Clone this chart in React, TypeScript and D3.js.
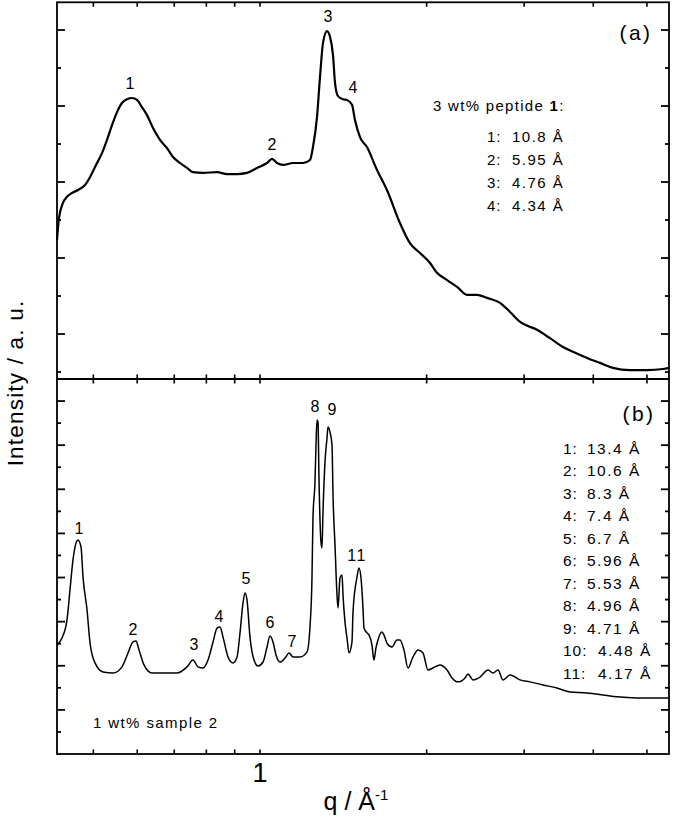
import React from "react";
import * as d3 from "d3";

// ---------- data ----------
// Panel (a): 3 wt% peptide 1  [q (1/Å), intensity (a.u.)]
const qA = [0.4298,0.4334,0.4406,0.4480,0.4574,0.4690,0.4829,0.4931,0.5076,0.5183,0.5292,0.5404,0.5517,0.5632,0.5751,0.5872,0.5995,0.6120,0.6250,0.6407,0.6597,0.6792,0.6964,0.7170,0.7382,0.7568,0.7889,0.8363,0.8718,0.9088,0.9474,0.9876,1.0295,1.0512,1.0733,1.1004,1.1473,1.1960,1.2310,1.2465,1.2675,1.2834,1.2995,1.3213,1.3380,1.3548,1.3661,1.3833,1.4123,1.4360,1.4661,1.4845,1.5157,1.5604,1.6265,1.6956,1.7899,1.8660,1.9454,2.0281,2.0880,2.1770,2.2697,2.3657,2.4660,2.5710,2.7137,2.8290,2.9494,3.1651,3.3408,3.5264,3.6762,3.8963,4.1133,4.3421,4.6606,5.0023,5.3456,5.4806];
const iA = [3.47,4.05,4.45,4.61,4.71,4.79,4.92,5.13,5.50,5.76,6.11,6.50,6.84,7.08,7.18,7.21,7.16,6.97,6.76,6.42,6.11,5.89,5.66,5.50,5.37,5.26,5.24,5.26,5.21,5.21,5.24,5.37,5.50,5.61,5.50,5.45,5.50,5.50,5.58,5.92,6.71,7.76,8.66,8.97,8.82,8.34,7.61,7.26,7.18,7.16,7.03,6.63,6.18,5.92,5.32,4.79,3.92,3.39,3.13,2.87,2.61,2.42,2.24,2.03,2.03,1.95,1.82,1.58,1.32,1.11,0.89,0.66,0.53,0.37,0.24,0.11,0.05,0.05,0.08,0.11];

// Panel (b): 1 wt% sample 2
const qB = [0.4298,0.4388,0.4480,0.4536,0.4593,0.4651,0.4690,0.4750,0.4789,0.4870,0.4931,0.5035,0.5205,0.5426,0.5632,0.5775,0.5896,0.5970,0.6045,0.6172,0.6381,0.6680,0.7081,0.7382,0.7568,0.7727,0.7889,0.8055,0.8225,0.8363,0.8468,0.8574,0.8754,0.8938,0.9088,0.9202,0.9317,0.9395,0.9474,0.9592,0.9754,0.9917,1.0126,1.0295,1.0425,1.0555,1.0688,1.0867,1.1097,1.1283,1.1473,1.1809,1.2158,1.2310,1.2413,1.2465,1.2569,1.2622,1.2675,1.2728,1.2780,1.2887,1.2941,1.2995,1.3103,1.3213,1.3268,1.3380,1.3492,1.3548,1.3661,1.3775,1.3833,1.3948,1.4065,1.4123,1.4241,1.4360,1.4480,1.4661,1.4723,1.4969,1.5094,1.5220,1.5347,1.5411,1.5604,1.5734,1.5931,1.6064,1.6198,1.6333,1.6607,1.6746,1.6956,1.7312,1.7676,1.7899,1.8199,1.8504,1.8894,1.9291,1.9698,2.0113,2.0535,2.1142,2.1770,2.2227,2.2791,2.3461,2.3755,2.4256,2.4970,2.5817,2.6357,2.6912,2.7477,2.8290,2.8884,2.9494,3.0741,3.2449,3.4396,3.6308,3.8963,4.1647,4.4155,4.7983,5.3456,5.4806];
const iB = [3.94,4.26,5.07,6.43,7.79,8.56,8.70,8.38,7.02,5.53,4.03,3.13,2.72,2.67,2.95,3.58,4.08,4.12,3.72,3.04,2.67,2.67,2.67,2.95,3.26,2.95,2.90,3.26,4.08,4.71,4.76,4.30,3.40,3.13,3.40,4.49,5.85,6.30,5.98,4.30,3.26,2.99,3.17,3.85,4.35,4.08,3.49,3.17,3.35,3.58,3.40,3.40,3.62,4.76,6.98,9.74,11.33,13.00,14.14,14.05,11.51,8.61,8.34,9.97,12.23,13.32,13.82,13.59,13.00,10.74,8.47,6.21,5.62,6.98,7.11,6.21,4.98,4.26,3.58,4.08,5.44,7.02,7.43,6.98,5.62,4.71,4.49,4.40,3.94,3.26,3.81,4.17,4.53,4.40,4.03,3.85,4.17,4.17,3.72,2.90,3.40,3.72,3.58,2.81,2.90,3.04,2.81,2.45,2.27,2.45,2.63,2.36,2.49,2.81,2.67,2.81,2.36,2.58,2.49,2.36,2.27,2.13,1.99,1.81,1.77,1.68,1.59,1.54,1.54,1.54];

// peak labels [label, q, intensity]
const peakLabelsA: [string, number, number][] = [["1",0.5823,7.61],["2",1.0512,6.0],["3",1.3268,9.37],["4",1.4723,7.5]];
const peakLabelsB: [string, number, number][] = [["1",0.4710,9.24],["2",0.5896,4.67],["3",0.7600,3.99],["4",0.8433,5.26],["5",0.9434,6.98],["6",1.0425,4.98],["7",1.1424,4.12],["8",1.2569,14.77],["9",1.3492,14.64],["11",1.4969,8.02]];

const spacingsA = [["1:","10.8"],["2:","5.95"],["3:","4.76"],["4:","4.34"]];
const spacingsB = [["1:","13.4"],["2:","10.6"],["3:","8.3"],["4:","7.4"],["5:","6.7"],["6:","5.96"],["7:","5.53"],["8:","4.96"],["9:","4.71"],["10:","4.48"],["11:","4.17"]];

const xMajorTicks = [1];
const xMinorTicks = [0.5,0.6,0.7,0.8,0.9,2,3,4,5];
const yTicksA = [0,1,2,3,4,5,6,7,8,9];
const yTicksB = [0,1,2,3,4,5,6,7,8,9,10,11,12,13,14,15];

// ---------- layout ----------
const W = 675, H = 819;
const L = 57, R = 669;
const topA = 2.3, mid = 379, botB = 754;
const FONT = "'Liberation Sans', Arial, Helvetica, sans-serif";

const x = d3.scaleLog().domain([0.4298, 5.4806]).range([L, R]);
const yA = d3.scaleLinear().domain([-0.184, 9.729]).range([mid, topA]);
const yB = d3.scaleLinear().domain([-1, 16]).range([botB, mid]);

function Panel({ qs, is, y, top, bottom, ticks, labels, sw }: any) {
  const pts = qs.map((q: number, k: number) => [q, is[k]] as [number, number]);
  const line = d3.line<[number, number]>().x(d => x(d[0])).y(d => y(d[1])).curve(d3.curveMonotoneX);
  return (
    <g>
      <path d={line(pts) || ""} fill="none" stroke="#000" strokeWidth={sw} strokeLinejoin="round" />
      {ticks.map((t: number) => {
        const len = t % 2 === 1 ? 8 : 4;
        const yy = y(t);
        return (
          <g key={t}>
            <line x1={L} x2={L + len} y1={yy} y2={yy} stroke="#000" strokeWidth={1.8} />
            <line x1={R} x2={R - len} y1={yy} y2={yy} stroke="#000" strokeWidth={1.8} />
          </g>
        );
      })}
      {[...xMajorTicks, ...xMinorTicks].map((t: number) => (
        <g key={"x" + t}>
          <line x1={x(t)} x2={x(t)} y1={top} y2={top + 4.5} stroke="#000" strokeWidth={1.6} />
          <line x1={x(t)} x2={x(t)} y1={bottom} y2={bottom - 4.5} stroke="#000" strokeWidth={1.6} />
        </g>
      ))}
      {labels.map(([s, q, v]: [string, number, number]) => (
        <text key={s} x={x(q)} y={y(v)} dy="0.36em" textAnchor="middle" fontSize={16} fontFamily={FONT} letterSpacing={s.length > 1 ? 1.5 : 0}>{s}</text>
      ))}
    </g>
  );
}

export default function App() {
  return (
    <svg width={W} height={H} style={{ position: "absolute", left: 0, top: 0, background: "#fff" }}>
      <rect x={0} y={0} width={W} height={H} fill="#fff" />
      <Panel qs={qA} is={iA} y={yA} top={topA} bottom={mid} ticks={yTicksA} labels={peakLabelsA} sw={2.2} />
      <Panel qs={qB} is={iB} y={yB} top={mid} bottom={botB} ticks={yTicksB} labels={peakLabelsB} sw={1.5} />
      {/* frames */}
      <rect x={L} y={topA} width={R - L} height={botB - topA} fill="none" stroke="#000" strokeWidth={1.8} />
      <line x1={L} x2={R} y1={mid} y2={mid} stroke="#000" strokeWidth={1.8} />

      {/* panel a annotations */}
      <text x={636} y={32} dy="0.36em" textAnchor="middle" fontSize={21} fontFamily={FONT} letterSpacing={2.5}>(a)</text>
      <text x={433} y={106} dy="0.36em" fontSize={15} fontFamily={FONT} letterSpacing={1.3}>
        3 wt% peptide <tspan fontWeight="bold">1</tspan>:
      </text>
      {spacingsA.map(([k, v], i) => (
        <g key={k}>
          <text x={487} y={137 + i * 22.7} dy="0.36em" fontSize={15} fontFamily={FONT} letterSpacing={1}>{k}</text>
          <text x={512} y={137 + i * 22.7} dy="0.36em" fontSize={15} fontFamily={FONT} letterSpacing={1.5}>{v} Å</text>
        </g>
      ))}

      {/* panel b annotations */}
      <text x={639} y={413} dy="0.36em" textAnchor="middle" fontSize={21} fontFamily={FONT} letterSpacing={2.5}>(b)</text>
      {spacingsB.map(([k, v], i) => (
        <g key={k}>
          <text x={563} y={448 + i * 22.5} dy="0.36em" fontSize={15.5} fontFamily={FONT} letterSpacing={1}>{k}</text>
          <text x={k.length > 2 ? 598 : 587} y={448 + i * 22.5} dy="0.36em" fontSize={15.5} fontFamily={FONT} letterSpacing={1.5}>{v} Å</text>
        </g>
      ))}
      <text x={93} y={723} dy="0.36em" fontSize={15} fontFamily={FONT} letterSpacing={1.4}>1 wt% sample 2</text>

      {/* axis labels */}
      {xMajorTicks.map(t => (
        <text key={t} x={x(t)} y={772} dy="0.36em" textAnchor="middle" fontSize={27} fontFamily={FONT}>{t}</text>
      ))}
      <text x={356} y={810} textAnchor="middle" fontSize={25} fontFamily={FONT}>
        q / Å<tspan dy={-10} fontSize={15}>-1</tspan>
      </text>
      <text transform="translate(23,383) rotate(-90)" textAnchor="middle" fontSize={22.5} fontFamily={FONT} letterSpacing={1.2}>Intensity / a. u.</text>
    </svg>
  );
}
